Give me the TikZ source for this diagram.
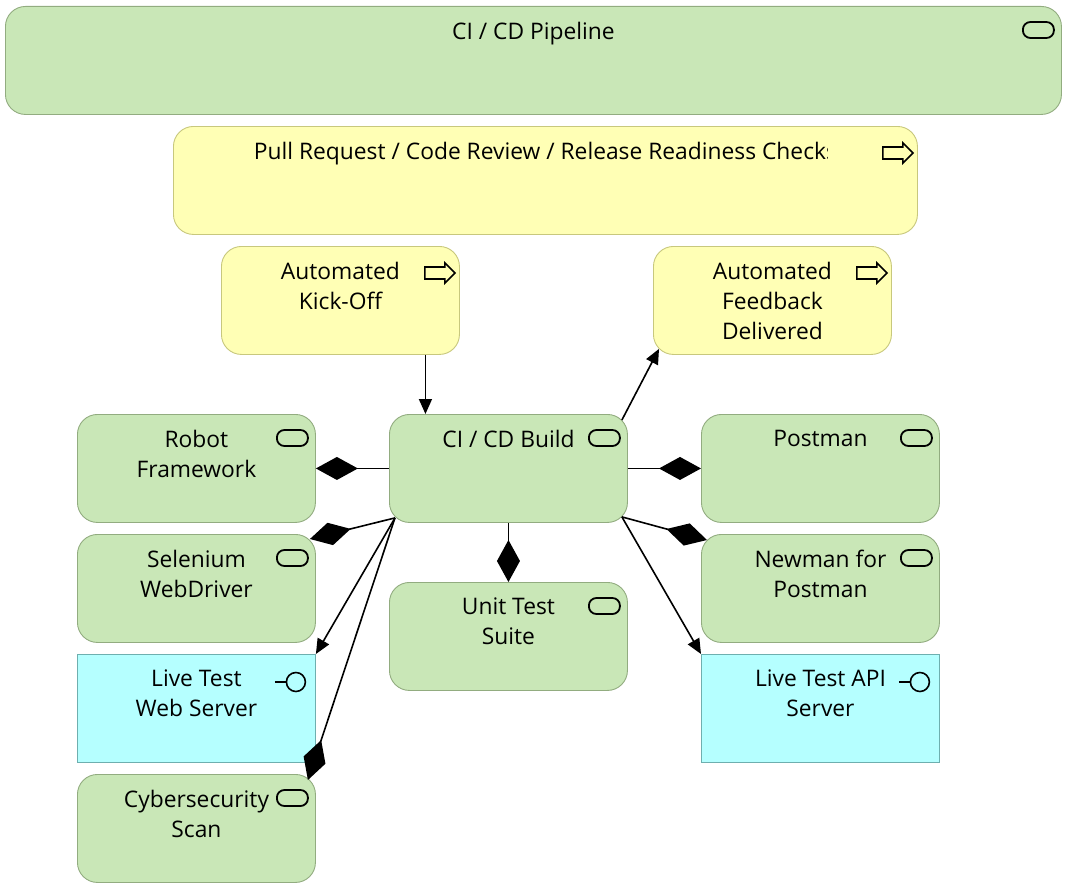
\documentclass[tikz,border=0pt]{standalone}
\usepackage{fontspec}
\setmainfont{Open Sans}
\usetikzlibrary{arrows.meta}

\begin{document}
\begin{tikzpicture}[x=1pt, y=-1pt,
  box/.style={draw, line width=0.9pt, rounded corners=20pt, anchor=north west,
    minimum width=238pt, minimum height=108pt, inner sep=0pt},
  svcbox/.style={box, fill=svcfill, draw=svcline},
  evtbox/.style={box, fill=evtfill, draw=evtline},
  ifcbox/.style={box, fill=ifcfill, draw=ifcline, rounded corners=0pt},
  txt/.style={anchor=north, align=center, inner sep=0pt,
    font=\fontsize{22.8}{30}\selectfont},
  trig/.style={line width=1.6pt, -{Triangle[length=15pt, width=13pt]}},
  comp/.style={line width=1.6pt, -{Diamond[length=42pt, width=23pt]}},
  icon/.style={line width=1.8pt}
]

% Define colors for the element types
\definecolor{svcfill}{RGB}{201,231,183}
\definecolor{svcline}{RGB}{146,172,128}
\definecolor{evtfill}{RGB}{255,255,181}
\definecolor{evtline}{RGB}{200,200,125}
\definecolor{ifcfill}{RGB}{181,255,255}
\definecolor{ifcline}{RGB}{110,175,175}

\useasboundingbox (0,0) rectangle (1069,891);

% Boxes
\node[svcbox, minimum width=1056pt] (pipeline) at (5,6) {};
\node[evtbox, minimum width=744pt] (pullreq) at (173,126) {};
\node[evtbox] (kickoff) at (221,246) {};
\node[evtbox] (feedback) at (653,246) {};
\node[svcbox] (build) at (389,414) {};
\node[svcbox] (robot) at (77,414) {};
\node[svcbox] (postman) at (701,414) {};
\node[svcbox] (selenium) at (77,534) {};
\node[svcbox] (newman) at (701,534) {};
\node[svcbox] (unittest) at (389,582) {};
\node[ifcbox] (webserver) at (77,654) {};
\node[ifcbox] (apiserver) at (701,654) {};
\node[svcbox] (cyber) at (77,774) {};

% Texts
\node[txt] (pipeline-t) at ([yshift=-16pt]pipeline.north) {CI / CD Pipeline};
\begin{scope}
  \clip (173,126) rectangle (827,234);
  \node[txt] (pullreq-t) at ([yshift=-16pt]pullreq.north) {Pull Request / Code Review / Release Readiness Checks};
\end{scope}
\node[txt] (kickoff-t) at ([yshift=-16pt]kickoff.north) {Automated\\Kick-Off};
\node[txt] (feedback-t) at ([yshift=-16pt]feedback.north) {Automated\\Feedback\\Delivered};
\node[txt] (build-t) at ([yshift=-16pt]build.north) {CI / CD Build};
\node[txt] (robot-t) at ([yshift=-16pt]robot.north) {Robot\\Framework};
\node[txt] (postman-t) at ([yshift=-16pt]postman.north) {Postman};
\node[txt] (selenium-t) at ([yshift=-16pt]selenium.north) {Selenium\\WebDriver};
\node[txt] (newman-t) at ([yshift=-16pt]newman.north) {Newman for\\Postman};
\node[txt] (unittest-t) at ([yshift=-16pt]unittest.north) {Unit Test\\Suite};
\node[txt] (webserver-t) at ([yshift=-16pt]webserver.north) {Live Test\\Web Server};
\node[txt] (apiserver-t) at ([yshift=-16pt]apiserver.north) {Live Test API\\Server};
\node[txt] (cyber-t) at ([yshift=-16pt]cyber.north) {Cybersecurity\\Scan};

% Service icons
\foreach \n in {pipeline, build, robot, postman, selenium, newman, unittest, cyber}
  \draw[icon, rounded corners=7.5pt] ([xshift=-39pt, yshift=-16pt]\n.north east) rectangle ++(31,16);

% Event icons
\foreach \n in {pullreq, kickoff, feedback}
  \draw[icon, line width=1.6pt] ([xshift=-35pt, yshift=-21pt]\n.north east) -- ++(20,0) -- ++(0,-4)
    -- ++(10,10) -- ++(-10,10) -- ++(0,-4) -- ++(-20,0) -- cycle;

% Interface icons
\foreach \n in {webserver, apiserver} {
  \draw[icon, line width=1.6pt] ([xshift=-41pt, yshift=-28pt]\n.north east) -- ++(12,0);
  \draw[icon, line width=1.6pt] ([xshift=-20pt, yshift=-28pt]\n.north east) circle (9.5pt);
}

% Triggering
\draw[trig] ([xshift=85pt]kickoff.south) -- ([xshift=85pt]kickoff.south |- build.north);
\draw[trig] ([xshift=-6pt, yshift=-6pt]build.north east) -- ([xshift=6pt, yshift=6pt]feedback.south west);
\draw[trig] ([xshift=6pt, yshift=5pt]build.south west) -- (webserver.north east);
\draw[trig] ([xshift=-6pt, yshift=6pt]build.south east) -- (apiserver.north west);

% Composition
\draw[comp] (build.west) -- (robot.east);
\draw[comp] (build.east) -- (postman.west);
\draw[comp] (build.south) -- (unittest.north);
\draw[comp] ([xshift=6pt, yshift=5pt]build.south west) -- ([xshift=-6pt, yshift=-5pt]selenium.north east);
\draw[comp] ([xshift=-6pt, yshift=6pt]build.south east) -- ([xshift=6pt, yshift=-6pt]newman.north west);
\draw[comp] ([xshift=6pt, yshift=5pt]build.south west) -- ([xshift=-8pt, yshift=-6pt]cyber.north east);

\end{tikzpicture}
\end{document}
